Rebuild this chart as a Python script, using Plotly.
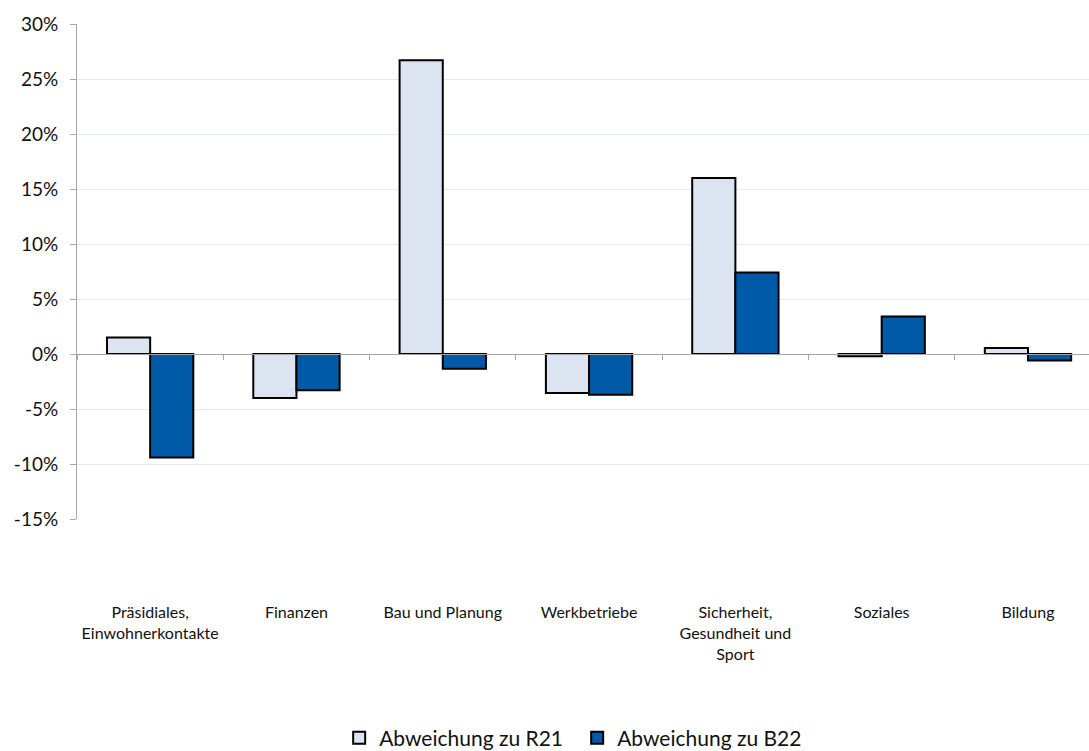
import plotly.graph_objects as go

# Abweichungen je Departement (in %)
categories = [
    "Präsidiales,<br>Einwohnerkontakte",
    "Finanzen",
    "Bau und Planung",
    "Werkbetriebe",
    "Sicherheit,<br>Gesundheit und<br>Sport",
    "Soziales",
    "Bildung",
]
abw_r21 = [1.5, -4.0, 26.7, -3.55, 16.0, -0.2, 0.55]
abw_b22 = [-9.4, -3.3, -1.35, -3.7, 7.4, 3.4, -0.6]

y_ticks = [-15, -10, -5, 0, 5, 10, 15, 20, 25, 30]
y_tick_text = [f"{v}%" for v in y_ticks]

FONT = "Lato, 'Open Sans', sans-serif"

fig = go.Figure()
fig.add_trace(go.Bar(
    name="Abweichung zu R21", x=categories, y=abw_r21,
    marker=dict(color="#dbe4f0", line=dict(color="#000000", width=2)),
))
fig.add_trace(go.Bar(
    name="Abweichung zu B22", x=categories, y=abw_b22,
    marker=dict(color="#005aa8", line=dict(color="#000000", width=2)),
))

fig.update_layout(
    width=1089, height=751,
    margin=dict(l=77, r=0, t=24, b=232),
    paper_bgcolor="white", plot_bgcolor="white",
    barmode="group", bargap=0.41, bargroupgap=0,
    font=dict(family=FONT, color="#111111"),
    showlegend=True,
    legend=dict(
        orientation="h",
        xref="container", yref="container",
        x=0.53, xanchor="center", y=0.0173, yanchor="middle",
        font=dict(size=21, family=FONT, color="#111111"),
        itemwidth=30, tracegroupgap=0,
        entrywidth=193, entrywidthmode="pixels",
    ),
)

fig.update_xaxes(
    type="category", range=[-0.5, 6.417],
    anchor="free", position=15 / 45,
    showline=True, linecolor="#a6a6a6", linewidth=1,
    ticks="outside", tickson="boundaries", ticklen=5, tickcolor="#a6a6a6",
    showgrid=False, zeroline=False,
    ticklabelstandoff=244,
    tickfont=dict(size=16, family=FONT, color="#111111"),
    automargin=False,
)
fig.update_yaxes(
    range=[-15, 30], tickvals=y_ticks, ticktext=y_tick_text,
    showline=True, linecolor="#a6a6a6", linewidth=1,
    ticks="outside", ticklen=6, tickcolor="#a6a6a6",
    showgrid=True, gridcolor="#e3e9f2", gridwidth=1,
    zeroline=False,
    ticklabelstandoff=8,
    tickfont=dict(size=19, family=FONT, color="#111111"),
    automargin=False,
)

fig.write_html("out.html")
